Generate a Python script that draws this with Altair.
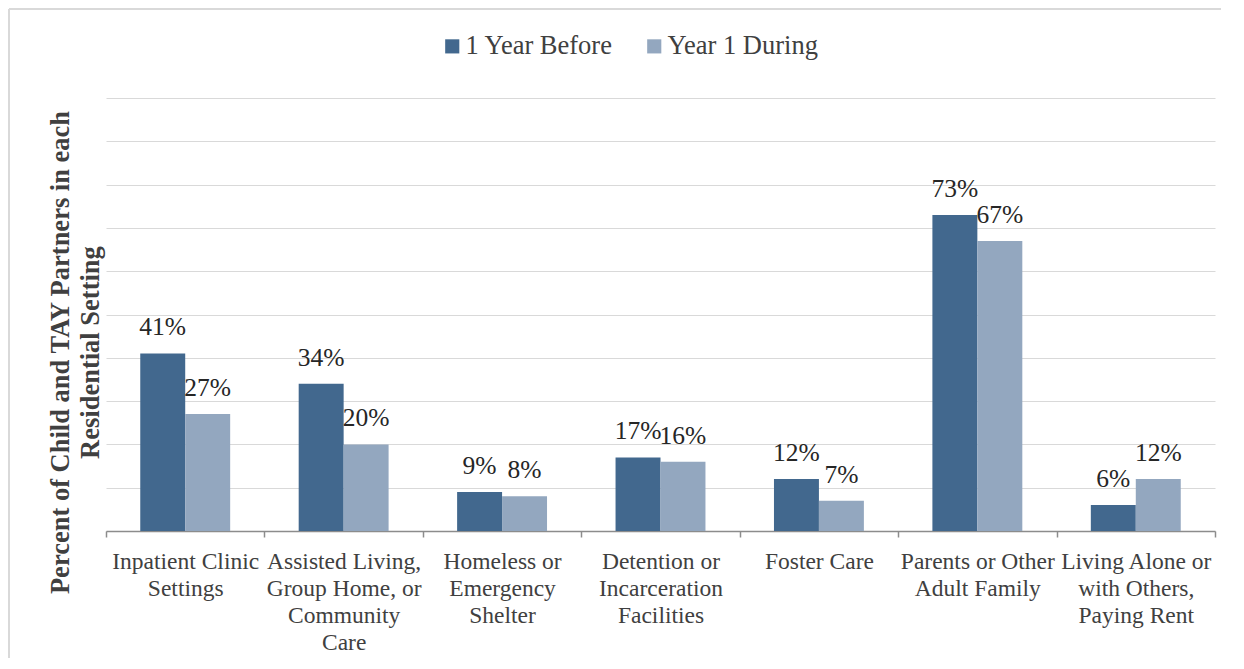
import altair as alt
import pandas as pd

categories = [
    "Inpatient Clinic|Settings",
    "Assisted Living,|Group Home, or|Community|Care",
    "Homeless or|Emergency|Shelter",
    "Detention or|Incarceration|Facilities",
    "Foster Care",
    "Parents or Other|Adult Family",
    "Living Alone or|with Others,|Paying Rent",
]
series = ["1 Year Before", "Year 1 During"]
before = [41, 34, 9, 17, 12, 73, 6]
during = [27, 20, 8, 16, 7, 67, 12]
colors = ["#42688E", "#93A7BF"]
y_ticks = [0, 10, 20, 30, 40, 50, 60, 70, 80, 90, 100]

rows = []
for c, b, d in zip(categories, before, during):
    rows.append({"cat": c, "series": series[0], "value": b})
    rows.append({"cat": c, "series": series[1], "value": d})
df = pd.DataFrame(rows)
df["label"] = df["value"].astype(str) + "%"

FONT = "Liberation Serif"

x_enc = alt.X(
    "cat:N",
    sort=categories,
    scale=alt.Scale(paddingInner=0, paddingOuter=0),
    axis=alt.Axis(
        title=None,
        labelAngle=0,
        labelExpr="split(datum.label, '|')",
        labelFont=FONT,
        labelFontSize=23.5,
        labelColor="#404040",
        labelLineHeight=27,
        labelBaseline="top",
        labelPadding=12,
        labelLimit=300,
        tickBand="extent",
        tickSize=6,
        tickColor="#8c8c8c",
        domainColor="#8c8c8c",
        domainWidth=1.5,
        tickWidth=1.5,
        grid=False,
    ),
)
xoff = alt.XOffset("series:N", sort=series,
                   scale=alt.Scale(paddingOuter=0.762, paddingInner=0))
y_enc = alt.Y(
    "value:Q",
    scale=alt.Scale(domain=[0, 100]),
    axis=alt.Axis(
        values=y_ticks,
        labels=False,
        ticks=False,
        domain=False,
        grid=True,
        gridColor="#d9d9d9",
        gridWidth=1.2,
        title=["Percent of Child and TAY Partners in each", "Residential Setting"],
        titleFont=FONT,
        titleFontSize=26.5,
        titleFontWeight="bold",
        titleColor="#404040",
        titleLineHeight=30,
        titleAngle=270,
        titleAlign="center",
        titleBaseline="middle",
        titleX=-46,
        titleY=254,
    ),
)

bars = alt.Chart(df).mark_bar().encode(
    x=x_enc,
    xOffset=xoff,
    y=y_enc,
    color=alt.Color(
        "series:N",
        sort=series,
        scale=alt.Scale(domain=series, range=colors),
        legend=alt.Legend(
            title=None,
            orient="none",
            direction="horizontal",
            legendX=333,
            legendY=-65,
            symbolType="square",
            symbolSize=200,
            symbolStrokeWidth=0,
            labelFont=FONT,
            labelFontSize=26.5,
            labelColor="#404040",
            labelOffset=0,
            columnPadding=28,
        ),
    ),
)

text = alt.Chart(df).mark_text(
    font=FONT, fontSize=25.5, color="#262626", baseline="alphabetic", dy=-18
).encode(
    x=alt.X("cat:N", sort=categories),
    xOffset=alt.XOffset("series:N", sort=series),
    y="value:Q",
    text="label:N",
)

frame = pd.DataFrame({"a": [0]})
top_line = alt.Chart(frame).mark_rule(color="#d9d9d9", strokeWidth=2, clip=False).encode(
    x=alt.value(-97), x2=alt.value(1115), y=alt.value(-89)
)
left_line = alt.Chart(frame).mark_rule(color="#d9d9d9", strokeWidth=2, clip=False).encode(
    x=alt.value(-97), y=alt.value(-89), y2=alt.value(560)
)

chart = alt.layer(top_line, left_line, bars, text).properties(
    width=1109,
    height=433,
    padding={"left": 98, "top": 90, "right": 21, "bottom": 130},
    autosize=alt.AutoSizeParams(type="none"),
).configure(
    background="white", font=FONT
).configure_view(strokeWidth=0, stroke="transparent")

chart.save("out.html", embed_options={"renderer": "svg", "actions": False})
